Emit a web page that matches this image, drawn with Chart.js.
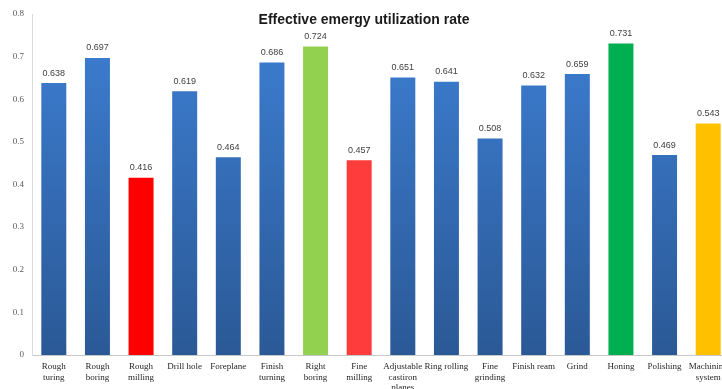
<!DOCTYPE html>
<html>
<head>
<meta charset="utf-8">
<style>
  html, body { margin: 0; padding: 0; background: #ffffff; overflow: hidden; }
  #wrap { width: 730px; height: 389px; }
</style>
<script src="https://cdn.jsdelivr.net/npm/chart.js@4.4.1/dist/chart.umd.min.js"></script>
</head>
<body>
<div id="wrap"><canvas id="chart" width="730" height="389"></canvas></div>
<script>
// Machining processes and their effective emergy utilization rate
const processes = [
  ["Rough", "turing"], ["Rough", "boring"], ["Rough", "milling"], ["Drill hole"],
  ["Foreplane"], ["Finish", "turning"], ["Right", "boring"], ["Fine", "milling"],
  ["Adjustable", "castiron", "planes"], ["Ring rolling"], ["Fine", "grinding"],
  ["Finish ream"], ["Grind"], ["Honing"], ["Polishing"], ["Machining", "system"]
];
const utilizationRate = [
  0.638, 0.697, 0.416, 0.619, 0.464, 0.686, 0.724, 0.457,
  0.651, 0.641, 0.508, 0.632, 0.659, 0.731, 0.469, 0.543
];
// Highlighted processes; null means the default blue gradient
const highlightColors = [
  null, null, "#ff0000", null, null, null, "#92d050", "#ff3c3c",
  null, null, null, null, null, "#00b050", null, "#ffc000"
];
const yTicks = [0, 0.1, 0.2, 0.3, 0.4, 0.5, 0.6, 0.7, 0.8];
const chartTitle = "Effective emergy utilization rate";

function barColor(ctx) {
  const special = highlightColors[ctx.dataIndex];
  if (special) return special;
  const area = ctx.chart.chartArea;
  if (!area) return "#3572c0";
  const g = ctx.chart.ctx.createLinearGradient(0, area.top, 0, area.bottom);
  g.addColorStop(0, "#3d7fd4");
  g.addColorStop(1, "#2b5996");
  return g;
}

// Value labels above each bar
const valueLabels = {
  id: "valueLabels",
  afterDatasetsDraw(chart) {
    const c = chart.ctx;
    const meta = chart.getDatasetMeta(0);
    c.save();
    c.font = "9px 'Liberation Sans', Arial, sans-serif";
    c.fillStyle = "#404040";
    c.textAlign = "center";
    c.textBaseline = "middle";
    meta.data.forEach((bar, i) => {
      c.fillText(utilizationRate[i].toFixed(3), bar.x, bar.y - 10);
    });
    c.restore();
  }
};

// Title drawn inside the plot, over the top of the bars
const titleOverlay = {
  id: "titleOverlay",
  afterDraw(chart) {
    const c = chart.ctx;
    c.save();
    c.font = "bold 14px 'Liberation Sans', Arial, sans-serif";
    c.fillStyle = "#1a1a1a";
    c.textAlign = "center";
    c.textBaseline = "middle";
    c.fillText(chartTitle, 364, 20);
    c.restore();
  }
};

new Chart(document.getElementById("chart"), {
  type: "bar",
  data: {
    labels: processes,
    datasets: [{
      data: utilizationRate,
      backgroundColor: barColor,
      borderWidth: 0,
      categoryPercentage: 1,
      barPercentage: 0.573
    }]
  },
  options: {
    responsive: false,
    animation: false,
    layout: { padding: { top: 14, right: 0, bottom: 0, left: 0 } },
    plugins: { legend: { display: false }, title: { display: false }, tooltip: { enabled: false } },
    scales: {
      x: {
        grid: { display: false, drawTicks: false },
        border: { display: true, color: "#c8c8c8", width: 1 },
        ticks: {
          autoSkip: false,
          maxRotation: 0,
          padding: 6,
          color: "#262626",
          font: { family: "'Liberation Serif', 'Times New Roman', serif", size: 9, lineHeight: 1.2 }
        },
        afterFit(scale) {
          scale.height = 34;
          scale.paddingLeft = 0;
          scale.paddingRight = 0;
        }
      },
      y: {
        min: 0,
        max: 0.8,
        afterBuildTicks(scale) {
          scale.ticks = yTicks.map(v => ({ value: v }));
        },
        grid: { display: false, drawTicks: false },
        border: { display: true, color: "#d9d9d9", width: 1 },
        ticks: {
          padding: 8,
          color: "#595959",
          font: { family: "'Liberation Serif', 'Times New Roman', serif", size: 9 },
          callback: v => (v === 0 ? "0" : String(Math.round(v * 10) / 10))
        },
        afterFit(scale) {
          scale.width = 32;
          scale.paddingTop = 0;
          scale.paddingBottom = 0;
        }
      }
    }
  },
  plugins: [valueLabels, titleOverlay]
});
</script>
</body>
</html>
